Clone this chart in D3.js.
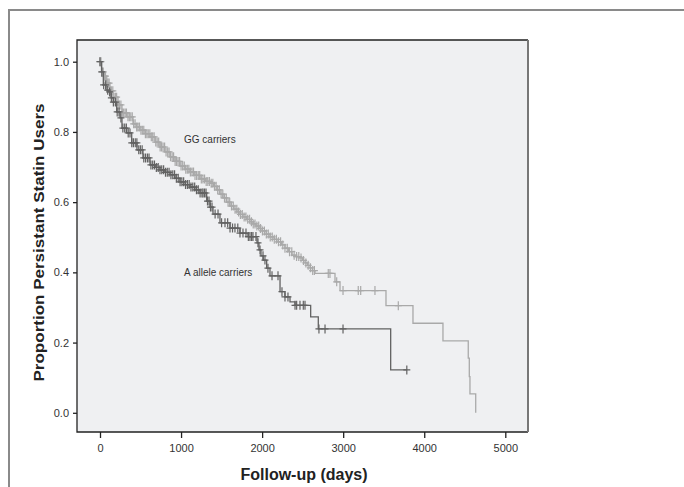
<!DOCTYPE html>
<html lang="en">
<head>
<meta charset="utf-8">
<title>Persistent statin users</title>
<script src="https://d3js.org/d3.v7.min.js"></script>
<style>
  body { margin: 0; background: #fff; }
  svg { display: block; font-family: "Liberation Sans", Arial, sans-serif; }
</style>
</head>
<body>
<script>
// Kaplan-Meier steps: [day, proportion from that day on]
var ggSteps = [[0,1.0],[21,0.971],[49,0.959],[83,0.939],[123,0.917],[160,0.899],[222,0.877],[271,0.854],[333,0.843],[407,0.823],[450,0.814],[493,0.805],[555,0.795],[617,0.786],[680,0.771],[740,0.757],[800,0.743],[864,0.729],[925,0.716],[987,0.703],[1050,0.694],[1110,0.686],[1170,0.676],[1234,0.666],[1300,0.659],[1357,0.654],[1400,0.645],[1443,0.635],[1480,0.623],[1517,0.612],[1560,0.600],[1604,0.589],[1650,0.580],[1690,0.572],[1727,0.565],[1764,0.558],[1810,0.551],[1850,0.544],[1890,0.538],[1924,0.532],[1961,0.525],[1998,0.518],[2050,0.509],[2097,0.501],[2150,0.494],[2196,0.487],[2240,0.478],[2282,0.469],[2325,0.459],[2368,0.449],[2420,0.445],[2467,0.441],[2500,0.434],[2529,0.427],[2560,0.420],[2591,0.413],[2620,0.405],[2652,0.397],[2899,0.373],[2961,0.348],[3528,0.305],[3861,0.255],[4231,0.205],[4543,0.156],[4556,0.103],[4564,0.054],[4635,0.0]];

var aSteps = [[0,1.0],[19,0.971],[41,0.934],[74,0.919],[102,0.914],[136,0.897],[164,0.885],[206,0.857],[247,0.840],[271,0.811],[329,0.797],[391,0.769],[456,0.749],[530,0.726],[617,0.706],[680,0.699],[740,0.692],[800,0.685],[864,0.678],[925,0.668],[987,0.658],[1050,0.650],[1110,0.643],[1170,0.635],[1234,0.626],[1316,0.603],[1357,0.586],[1394,0.566],[1480,0.541],[1604,0.526],[1727,0.512],[1826,0.502],[1937,0.484],[1961,0.464],[1986,0.447],[2014,0.435],[2056,0.412],[2097,0.390],[2221,0.345],[2282,0.330],[2344,0.316],[2406,0.306],[2599,0.273],[2693,0.239],[3586,0.122],[3785,0.122]];

// censored observations (days)
var ggCensored = [0,12,28,40,55,68,85,98,112,128,140,158,172,190,205,224,240,258,275,292,310,326,345,362,380,398,415,433,452,468,487,505,522,540,560,578,595,615,633,650,668,688,705,724,742,760,778,797,815,835,852,870,890,908,927,945,963,982,1000,1020,1040,1058,1077,1096,1115,1135,1154,1172,1192,1212,1230,1250,1270,1290,1310,1330,1350,1372,1392,1412,1432,1452,1472,1494,1515,1536,1558,1580,1600,1622,1644,1666,1688,1710,1732,1755,1778,1800,1822,1845,1868,1890,1912,1935,1958,1980,2004,2028,2052,2076,2100,2125,2150,2176,2202,2228,2255,2282,2310,2338,2366,2395,2425,2452,2480,2510,2540,2568,2596,2624,2645,2816,2837,2920,2998,3186,3216,3392,3680];

var aCensored = [0,22,45,70,95,118,140,165,190,212,235,258,282,305,325,348,370,392,412,435,455,478,498,520,540,562,585,605,628,650,672,695,718,740,762,785,808,830,852,875,898,920,942,965,988,1010,1032,1055,1078,1100,1122,1145,1168,1190,1212,1235,1258,1271,1290,1308,1326,1345,1363,1382,1420,1456,1500,1542,1575,1604,1635,1665,1700,1727,1764,1801,1830,1850,1870,1887,1924,1949,1974,2011,2035,2072,2122,2196,2245,2282,2319,2406,2426,2467,2508,2529,2701,2776,2998,3785];

var xTicks = [0, 1000, 2000, 3000, 4000, 5000];
var yTicks = [0, 0.2, 0.4, 0.6, 0.8, 1.0];

var w = 684, h = 487;
var box = {left: 77, top: 40, right: 528, bottom: 432};

var svg = d3.select("body").append("svg")
    .attr("width", w)
    .attr("height", h);

// outer frame (only left and top edges visible)
svg.append("path")
    .attr("d", "M9," + h + "V10H" + w)
    .attr("fill", "none")
    .attr("stroke", "#8a8a8a")
    .attr("stroke-width", 2);

var x = d3.scaleLinear().domain([0, 5000]).range([100, 505.3]);
var y = d3.scaleLinear().domain([0, 1]).range([412.8, 61.7]);

svg.append("rect")
    .attr("x", box.left).attr("y", box.top)
    .attr("width", box.right - box.left)
    .attr("height", box.bottom - box.top)
    .attr("fill", "#eff0f2");

// axes
var yAxis = svg.append("g")
    .attr("transform", "translate(" + box.left + ",0)")
    .call(d3.axisLeft(y).tickValues(yTicks).tickFormat(d3.format(".1f")).tickSize(4).tickPadding(4));
var xAxis = svg.append("g")
    .attr("transform", "translate(0," + box.bottom + ")")
    .call(d3.axisBottom(x).tickValues(xTicks).tickFormat(d3.format("d")).tickSize(6).tickPadding(6.5));

[xAxis, yAxis].forEach(function(a) {
    a.select(".domain").remove();
    a.selectAll("line").attr("stroke", "#222").attr("stroke-width", 1.3);
    a.selectAll("text").attr("fill", "#333").style("font-size", "11px")
        .style("font-family", "'Liberation Sans', Arial, sans-serif");
});

// plot frame
var frame = svg.append("g").attr("fill", "none");
frame.append("path")
    .attr("d", "M" + box.right + "," + box.top + "H" + box.left + "V" + box.bottom + "H" + box.right)
    .attr("stroke", "#222").attr("stroke-width", 1.3);
frame.append("line")
    .attr("x1", box.right).attr("x2", box.right)
    .attr("y1", box.top).attr("y2", box.bottom)
    .attr("stroke", "#777").attr("stroke-width", 2);

var line = d3.line()
    .x(function(d) { return x(d[0]); })
    .y(function(d) { return y(d[1]); })
    .curve(d3.curveStepAfter);

var bis = d3.bisector(function(d) { return d[0]; }).right;
function survAt(steps, t) {
    return steps[Math.max(0, bis(steps, t) - 1)][1];
}

function drawGroup(steps, censored, color) {
    var g = svg.append("g");
    g.append("path")
        .datum(steps)
        .attr("d", line)
        .attr("fill", "none")
        .attr("stroke", color)
        .attr("stroke-width", 1.3);
    g.selectAll("path.cens")
        .data(censored)
        .enter()
        .append("path")
        .attr("class", "cens")
        .attr("d", function(t) {
            var cx = x(t), cy = y(survAt(steps, t));
            return "M" + (cx - 3.5) + "," + cy + "H" + (cx + 3.5) +
                   "M" + cx + "," + (cy - 4.5) + "V" + (cy + 4.5);
        })
        .attr("fill", "none")
        .attr("stroke", color)
        .attr("stroke-width", 1.2);
}

drawGroup(ggSteps, ggCensored, "#a9a9a9");
drawGroup(aSteps, aCensored, "#626262");

// group labels
svg.append("text")
    .attr("x", 184).attr("y", 143)
    .attr("fill", "#333").style("font-size", "10px")
    .text("GG carriers");
svg.append("text")
    .attr("x", 184).attr("y", 276)
    .attr("fill", "#333").style("font-size", "10px")
    .text("A allele carriers");

// axis titles
svg.append("text")
    .attr("x", 304).attr("y", 480)
    .attr("text-anchor", "middle")
    .attr("fill", "#222")
    .style("font-size", "16px").style("font-weight", "bold")
    .text("Follow-up (days)");

svg.append("text")
    .attr("transform", "translate(44,242.5) rotate(-90)")
    .attr("text-anchor", "middle")
    .attr("fill", "#222")
    .attr("textLength", 278)
    .attr("lengthAdjust", "spacingAndGlyphs")
    .style("font-size", "15px").style("font-weight", "bold")
    .text("Proportion Persistant Statin Users");
</script>
</body>
</html>
